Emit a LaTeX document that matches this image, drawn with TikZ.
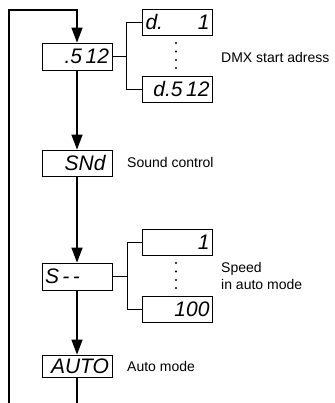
\documentclass[tikz,border=0pt]{standalone}
\usepackage{fontspec}
\setmainfont{Liberation Sans}
\usetikzlibrary{arrows.meta,positioning}

\tikzset{
  disp/.style={draw,line width=0.8pt,minimum width=70pt,minimum height=26pt,
    inner sep=2pt,text width=64pt,align=right,
    font=\fontsize{21}{21}\selectfont\itshape},
  flow/.style={line width=1.4pt,-{Triangle[length=15pt,width=11pt]}},
  link/.style={line width=0.8pt},
  lbl/.style={anchor=west,inner sep=0pt,align=left,
    font=\fontsize{14}{16.5}\selectfont}
}

\begin{document}
\begin{tikzpicture}[x=1pt,y=-1pt]
  \useasboundingbox (0,0) rectangle (334,403);
  % main menu column
  \node[disp,minimum height=27pt] (addr) at (77,56.5) {.5\,12};
  \node[disp] (snd) at (77,163) {SNd\,};
  \node[disp,minimum height=27pt] (spd) at (77,276.5) {S\,-{}\,-\hfill\mbox{}};
  \node[disp,minimum height=22pt] (auto) at (77,366) {AUTO};
  % sub values
  \node[disp] (addrlo) at (177.5,22) {d.\hfill 1};
  \node[disp] (addrhi) at (177.5,89.5) {d.5\,12};
  \node[disp] (spdlo) at (177.5,242) {1};
  \node[disp] (spdhi) at (177.5,309.5) {100};
  \foreach \y in {43,51.5,60,68} \fill (176,\y) circle (1.1pt);
  \foreach \y in {263,271.5,280,288} \fill (176,\y) circle (1.1pt);
  % labels
  \node[lbl] (addrtxt) at (221,57) {DMX start adress};
  \node[lbl] (sndtxt) at (127,162) {Sound control};
  \node[lbl] (spdtxt) at (221,276) {Speed\\in auto mode};
  \node[lbl] (autotxt) at (127,366) {Auto mode};
  % forks
  \draw[link] (addr.east) -- ++(14,0) |- (addrlo.west);
  \draw[link] (addr.east) -- ++(14,0) |- (addrhi.west);
  \draw[link] (spd.east) -- ++(15,0) |- (spdlo.west);
  \draw[link] (spd.east) -- ++(15,0) |- (spdhi.west);
  % flow
  \coordinate (loopbot) at (9,403);
  \coordinate (looptop) at (9,10);
  \coordinate (autobot) at (77,403);
  \draw[flow] (addr) -- (snd);
  \draw[flow] (snd) -- (spd);
  \draw[flow] (spd) -- (auto);
  \draw[line width=1.4pt] (auto) -- (autobot);
  \draw[flow] (loopbot) -- (looptop) -| (addr.north);
\end{tikzpicture}
\end{document}
